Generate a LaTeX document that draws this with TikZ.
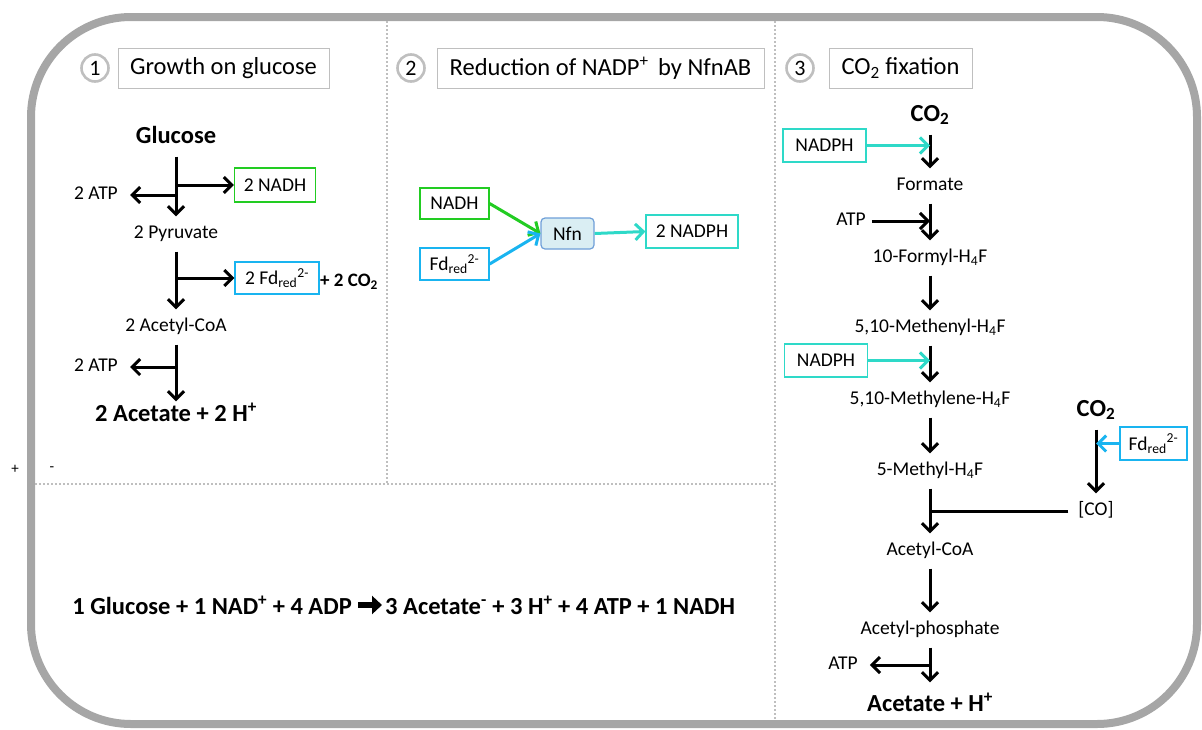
\documentclass[tikz,border=0pt]{standalone}
\usepackage{fontspec}
\setmainfont{Carlito}
\usetikzlibrary{arrows.meta,calc}
\definecolor{framec}{HTML}{A6A6A6}
\definecolor{dotc}{HTML}{BFBFBF}
\definecolor{grn}{HTML}{22CC22}
\definecolor{blu}{HTML}{19B4F0}
\definecolor{tealc}{HTML}{2ED9C8}
\definecolor{nfnfill}{HTML}{DAEEF3}
\definecolor{nfnbd}{HTML}{6F9FD8}
\begin{document}
\begin{tikzpicture}[x=1pt,y=-1pt,
  lbl/.style={font=\fontsize{19.5}{22}\selectfont, text height=14pt, text depth=5pt, inner ysep=8pt, inner xsep=5pt},
  big/.style={font=\fontsize{24.5}{28}\selectfont\bfseries, text height=18pt, text depth=6pt, inner ysep=7.5pt},
  box/.style={draw, line width=1.2pt, font=\fontsize{19.5}{22}\selectfont, inner sep=0pt},
  arr/.style={line width=3pt, -{Straight Barb[length=8pt,width=16pt]}},
  carr/.style={line width=3pt, -{Straight Barb[length=8pt,width=16pt]}},
  numc/.style={circle, draw=dotc, line width=2.6pt, minimum size=27pt, inner sep=0pt, font=\fontsize{22}{24}\selectfont},
  titlebox/.style={draw=dotc, line width=1pt, minimum height=40pt, inner sep=0pt, font=\fontsize{24.5}{28}\selectfont},
  divider/.style={dotc, line width=2pt, dash pattern=on 2pt off 2pt}
]
\useasboundingbox (0,0) rectangle (1202,729);
% frame and dividers
\draw[framec, line width=8pt, rounded corners=100pt] (31,17) rectangle (1197,724);
\draw[divider] (387,21) -- (387,484);
\draw[divider] (775,21) -- (775,720);
\draw[divider] (35,484) -- (775,484);
\node[font=\fontsize{15}{17}\selectfont] (plus) at (15,469) {+};
\node[font=\fontsize{15}{17}\selectfont] (minus) at (52,469) {-};

% titles
\node[numc] (c1) at (95,68) {1};
\node[titlebox, minimum width=211pt] (t1) at (223.5,68) {Growth on glucose};
\node[numc] (c2) at (411,68) {2};
\node[titlebox, minimum width=327pt] (t2) at (600.5,68) {Reduction of NADP\textsuperscript{+}\, by NfnAB};
\node[numc] (c3) at (800,68) {3};
\node[titlebox, minimum width=143pt] (t3) at (900.5,68) {CO\textsubscript{2} fixation};

% panel 1
\node[big] (glc) at (176,137) {Glucose};
\node[box, draw=grn, minimum width=81pt, minimum height=34pt] (nadh1) at (275,185) {2 NADH};
\node[lbl, inner xsep=12pt] (atp1) at (96,195) {2 ATP};
\node[lbl] (pyr) at (176,234) {2 Pyruvate};
\node[box, draw=blu, minimum width=84pt, minimum height=32pt] (fd1) at (277,278) {2 Fd\textsubscript{red}\textsuperscript{2-}};
\node[font=\fontsize{19}{22}\selectfont\bfseries] (co2a) at (349,282) {+ 2 CO\textsubscript{2}};
\node[lbl] (acoa1) at (176,327) {2 Acetyl-CoA};
\node[lbl, inner xsep=12pt] (atp2) at (96,367) {2 ATP};
\node[big, inner ysep=2pt] (ac1) at (176,415.5) {2 Acetate + 2 H\textsuperscript{+}};

\draw[arr] (glc.south) -- (pyr.north);
\draw[arr] (glc.south |- nadh1.west) -- (nadh1.west);
\draw[arr] (glc.south |- atp1.east) -- (atp1.east);
\draw[arr] (pyr.south) -- (acoa1.north);
\draw[arr] (pyr.south |- fd1.west) -- (fd1.west);
\draw[arr] (acoa1.south) -- (ac1.north);
\draw[arr] (acoa1.south |- atp2.east) -- (atp2.east);

% panel 2
\node[box, draw=grn, minimum width=69pt, minimum height=31pt] (nadh2) at (454.5,203.5) {NADH};
\node[box, draw=blu, minimum width=69pt, minimum height=32pt] (fd2) at (454.5,264) {Fd\textsubscript{red}\textsuperscript{2-}};
\node[box, draw=nfnbd, fill=nfnfill, rounded corners=4pt, minimum width=53pt, minimum height=31pt] (nfn) at (567.5,233.5) {Nfn};
\node[box, draw=tealc, minimum width=92pt, minimum height=33pt] (nadph2) at (692,231.5) {2 NADPH};
\draw[carr, grn] (nadh2.east) -- (nfn.west);
\draw[carr, blu] (fd2.east) -- (nfn.west);
\draw[carr, tealc] (nfn.east) -- (nadph2.west);

% panel 3
\node[big] (co2b) at (930,115) {CO\textsubscript{2}};
\node[box, draw=tealc, minimum width=83pt, minimum height=33pt] (nadph3) at (824.5,145.5) {NADPH};
\node[lbl] (form) at (930,186) {Formate};
\node[lbl, inner xsep=6pt] (atp3) at (851,221) {ATP};
\node[lbl] (formyl) at (930,258) {10-Formyl-H\textsubscript{4}F};
\node[lbl] (methenyl) at (930,328) {5,10-Methenyl-H\textsubscript{4}F};
\node[box, draw=tealc, minimum width=83pt, minimum height=33pt] (nadph4) at (826,360.5) {NADPH};
\node[lbl] (methylene) at (930,400) {5,10-Methylene-H\textsubscript{4}F};
\node[lbl] (methyl) at (930,471) {5-Methyl-H\textsubscript{4}F};
\node[big] (co2c) at (1096,410) {CO\textsubscript{2}};
\node[box, draw=blu, minimum width=67pt, minimum height=33pt] (fd3) at (1153.5,443.5) {Fd\textsubscript{red}\textsuperscript{2-}};
\node[lbl, inner xsep=10pt] (co) at (1096,511) {[CO]};
\node[lbl] (acoa3) at (930,551) {Acetyl-CoA};
\node[lbl] (acp) at (930,630) {Acetyl-phosphate};
\node[lbl, inner xsep=12pt] (atp4) at (843,665) {ATP};
\node[big, inner ysep=11pt] (ac3) at (930,705.5) {Acetate + H\textsuperscript{+}};

\draw[arr] (co2b.south) -- (form.north);
\draw[carr, tealc] (nadph3.east) -- (nadph3.east -| co2b.south);
\draw[arr] (form.south) -- (formyl.north);
\draw[arr] (atp3.east) -- (atp3.east -| form.south);
\draw[arr] (formyl.south) -- (methenyl.north);
\draw[arr] (methenyl.south) -- (methylene.north);
\draw[carr, tealc] (nadph4.east) -- (nadph4.east -| methenyl.south);
\draw[arr] (methylene.south) -- (methyl.north);
\draw[arr] (methyl.south) -- (acoa3.north);
\draw[line width=3pt] (co.west) -- (co.west -| methyl.south);
\draw[arr] (co2c.south) -- (co.north);
\draw[carr, blu] (fd3.west) -- (fd3.west -| co2c.south);
\draw[arr] (acoa3.south) -- (acp.north);
\draw[arr] (acp.south) -- (ac3.north);
\draw[arr] (acp.south |- atp4.east) -- (atp4.east);

% overall equation
\node[font=\fontsize{24.5}{28}\selectfont\bfseries, anchor=east, inner xsep=2pt] (eqL) at (354,605) {1 Glucose + 1 NAD\textsuperscript{+} + 4 ADP};
\node[font=\fontsize{24.5}{28}\selectfont\bfseries, anchor=west, inner xsep=3pt] (eqR) at (382,605) {3 Acetate\textsuperscript{-} + 3 H\textsuperscript{+} + 4 ATP + 1 NADH};
\draw[line width=5.5pt, -{Triangle[length=10pt,width=18pt]}, shorten <=4pt] (eqL.east) -- (eqR.west);
\end{tikzpicture}
\end{document}
